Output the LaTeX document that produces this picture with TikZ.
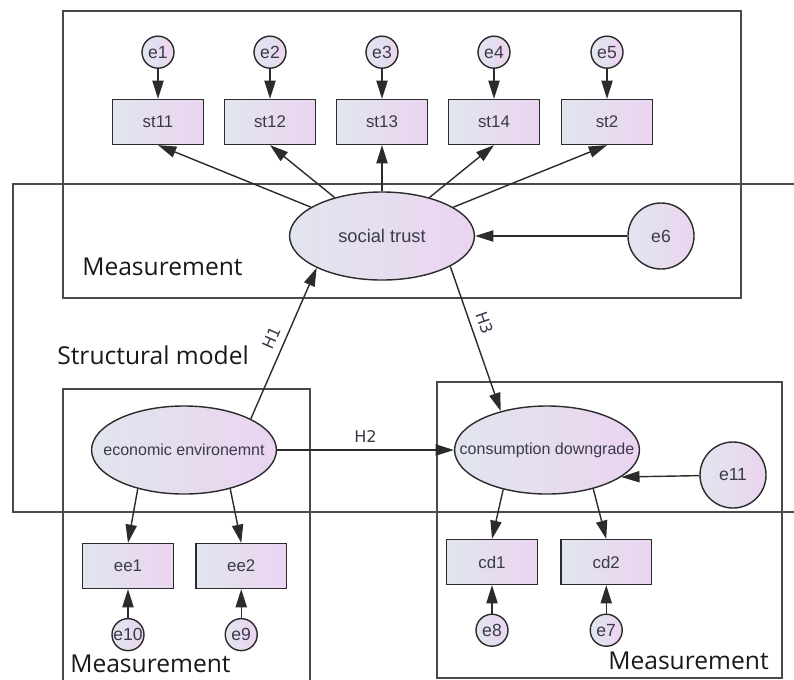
\documentclass[tikz,border=0pt]{standalone}
\usepackage{fontspec}
\setmainfont{Liberation Sans}
\newfontfamily\partfont{Open Sans}
\newfontfamily\hypfont{DejaVu Sans}
\usetikzlibrary{shapes.geometric, arrows.meta, positioning}
\definecolor{shadeL}{HTML}{E1E5EE}
\definecolor{shadeR}{HTML}{EBD4F0}
\definecolor{ink}{HTML}{2B2B2B}
\definecolor{txt}{HTML}{3A3A4A}
\definecolor{framec}{HTML}{4A4A4A}

\begin{document}
\begin{tikzpicture}
[
	x=0.025cm, y=-0.025cm,
	node distance={7mm},
	box/.style = {draw=ink, line width=1pt, rectangle, minimum width=2.27cm, minimum height=1.12cm, left color=shadeL, right color=shadeR, text=txt, font=\fontsize{12}{14}\selectfont},
	latent/.style = {box, ellipse, minimum width=4.62cm, minimum height=2.2cm, inner xsep=-0.6cm, font=\fontsize{11.4}{13}\selectfont},
	err/.style = {box, circle, minimum width=0pt, minimum height=0pt, minimum size=0.8cm, inner sep=-1pt, font=\fontsize{12.5}{14}\selectfont},
	bigerr/.style = {err, minimum size=1.65cm},
	frame/.style = {draw=framec, line width=0.8pt},
	arr/.style = {draw=ink, line width=1pt, -{Triangle[length=13pt, width=8pt]}},
	hyp/.style = {text=txt, font=\hypfont\fontsize{11.5}{13}\selectfont, sloped, inner sep=5pt},
	part/.style = {text=black!90, font=\partfont\fontsize{17.5}{20}\selectfont, anchor=west, inner sep=0pt}
]
\useasboundingbox (0,0) rectangle (794,679);

% frames
\draw[frame] (63,11) rectangle (741,298);
\draw[frame] (13,184) rectangle (800,512);
\draw[frame] (63,389) rectangle (310,690);
\draw[frame] (437,382) rectangle (782,678);

\node[part] (meas1) at (82,267) {Measurement};
\node[part] (struct) at (57,355) {Structural model};
\node[part] (meas2) at (70,664) {Measurement};
\node[part] (meas3) at (608,661) {Measurement};

% social trust
\node[latent, font=\fontsize{13}{15}\selectfont] (trust) at (382,236) {social trust};
\node[bigerr] (e6) at (661,236) {e6};
\foreach \s/\e/\x in {st11/e1/158, st12/e2/270, st13/e3/382, st14/e4/494, st2/e5/607}
{
	\node[box] (\s) at (\x,122) {\s};
	\node[err] (\e) [above=0.75cm of \s] {\e};
	\draw[arr] (\e) -- (\s);
	\draw[arr] (trust) -- (\s.south);
}
\draw[arr] (e6) -- (trust);

% economic environment
\node[latent] (econ) at (184,450) {economic environemnt};
\node[box] (ee1) at (128,566) {ee1};
\node[box] (ee2) [right=0.525cm of ee1] {ee2};
\node[err] (e10) [below=0.72cm of ee1] {e10};
\node[err] (e9) [below=0.72cm of ee2] {e9};

% consumption downgrade
\node[latent] (cons) at (547,450) {consumption downgrade};
\node[bigerr] (e11) at (733,475) {e11};
\node[box] (cd1) at (492,562) {cd1};
\node[box] (cd2) [right=0.55cm of cd1] {cd2};
\node[err] (e8) [below=0.71cm of cd1] {e8};
\node[err] (e7) [below=0.71cm of cd2] {e7};

\draw[arr] (econ.-140) -- (ee1.north);
\draw[arr] (econ.-40) -- (ee2.north);
\draw[arr] (e10) -- (ee1);
\draw[arr] (e9) -- (ee2);
\draw[arr] (cons.-138) -- (cd1.north);
\draw[arr] (cons.-40) -- (cd2.north);
\draw[arr] (e8) -- (cd1);
\draw[arr] (e7) -- (cd2);
\draw[arr] (e11) -- (cons.-20);

% hypotheses
\draw[arr] (econ.25) -- node[hyp, above] {H1} (trust.-154);
\draw[arr] (econ) -- node[hyp, above] {H2} (cons);
\draw[arr] (trust.-24) -- node[hyp, above, pos=0.42] {H3} (cons.140);
\end{tikzpicture}
\end{document}
